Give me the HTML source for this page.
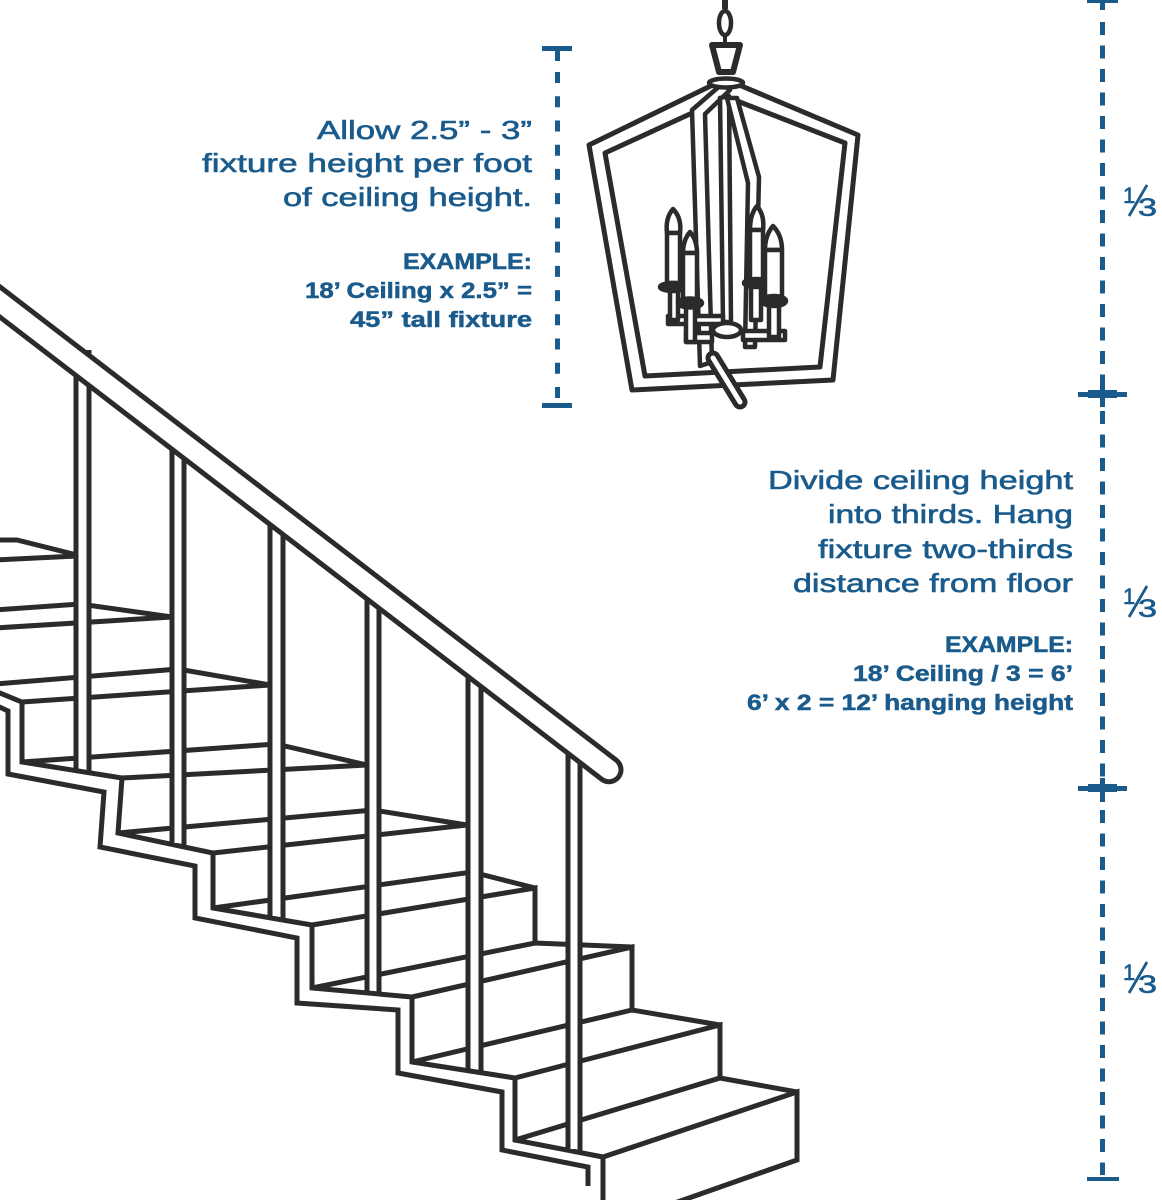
<!DOCTYPE html>
<html>
<head>
<meta charset="utf-8">
<style>
  html, body { margin: 0; padding: 0; background: #fff; }
  svg { display: block; }
  .reg { font-family: "Liberation Sans", "DejaVu Sans", sans-serif; font-size: 26px; fill: #1a5b8c; stroke: #1a5b8c; stroke-width: 0.6px; }
  .bold { font-family: "Liberation Sans", "DejaVu Sans", sans-serif; font-size: 22px; font-weight: bold; fill: #1a5b8c; stroke: #1a5b8c; stroke-width: 0.5px; }
  .fn { font-family: "Liberation Sans", "DejaVu Sans", sans-serif; fill: #1a5b8c; stroke: #1a5b8c; stroke-width: 0.6px; }
</style>
</head>
<body>
<svg width="1162" height="1200" viewBox="0 0 1162 1200" xmlns="http://www.w3.org/2000/svg">
  <rect width="1162" height="1200" fill="#fff"/>

  <!-- ================= STAIRS ================= -->
  <g stroke="#2b2b2b" stroke-width="5" fill="none" stroke-linejoin="miter">
    <polyline points="-5,691 22,702 22,762 122,778 118,833 213,853 213,908 312,925 312,988 412,997 412,1062 515,1078 515,1140 603,1157 603,1205"/>
    <polyline points="-5,705 8,711 8,774 104,792 100,847 195,866 195,918 297,938 297,1003 398,1010 398,1073 502,1092 502,1150 588,1167 588,1186"/>
    <polyline points="603,1157 797,1092 797,1160 669,1205"/>
    <polyline points="515,1140 720,1078 797,1092"/>
    <polyline points="515,1078 720,1025 720,1078"/>
    <polyline points="412,1062 632,1010 720,1025"/>
    <polyline points="412,997 632,947 632,1010"/>
    <polyline points="312,988 535,943 632,947"/>
    <polyline points="312,925 535,888 535,943"/>
    <polyline points="213,908 472,872 535,888"/>
    <polyline points="213,853 467,825"/>
    <polyline points="118,833 373,810 467,825"/>
    <polyline points="122,778 367,765"/>
    <polyline points="22,762 276,744 367,765"/>
    <polyline points="22,702 270,685"/>
    <polyline points="-5,684 178,669 270,685"/>
    <polyline points="-5,628 172,617"/>
    <polyline points="-5,610 80,604 172,617"/>
    <polyline points="-5,560 77,556"/>
    <polyline points="-5,540 17,540 77,555"/>
  </g>

  <!-- balusters -->
  <g stroke="#2b2b2b" stroke-width="5">
    <rect x="76" y="350" width="13" height="418" fill="#fff" stroke="none"/>
    <line x1="76" y1="350" x2="76" y2="771"/><line x1="89" y1="350" x2="89" y2="771"/>
    <rect x="172" y="430" width="12" height="413" fill="#fff" stroke="none"/>
    <line x1="172" y1="430" x2="172" y2="846"/><line x1="184" y1="430" x2="184" y2="846"/>
    <rect x="270" y="505" width="13" height="411" fill="#fff" stroke="none"/>
    <line x1="270" y1="505" x2="270" y2="919"/><line x1="283" y1="505" x2="283" y2="919"/>
    <rect x="367" y="580" width="12" height="410" fill="#fff" stroke="none"/>
    <line x1="367" y1="580" x2="367" y2="993"/><line x1="379" y1="580" x2="379" y2="993"/>
    <rect x="468" y="658" width="13" height="410" fill="#fff" stroke="none"/>
    <line x1="468" y1="658" x2="468" y2="1071"/><line x1="481" y1="658" x2="481" y2="1071"/>
    <rect x="568" y="735" width="12" height="414" fill="#fff" stroke="none"/>
    <line x1="568" y1="735" x2="568" y2="1152"/><line x1="580" y1="735" x2="580" y2="1152"/>
  </g>

  <!-- handrail -->
  <line x1="-40" y1="271.3" x2="609" y2="769.7" stroke="#2b2b2b" stroke-width="29" stroke-linecap="round"/>
  <line x1="-40" y1="271.3" x2="609" y2="769.7" stroke="#fff" stroke-width="19" stroke-linecap="round"/>

  <!-- ================= CHANDELIER ================= -->
  <g stroke="#2b2b2b" stroke-width="5" fill="none" stroke-linejoin="round">
    <polygon points="589,145 725,79 858,135 833,380 632,390"/>
    <polygon points="605,153 727,97 845,143 820,367 645,376"/>
  </g>
  <g stroke="#2b2b2b" stroke-width="4.5" fill="#fff" stroke-linejoin="round">
    <polygon points="692,110 722,84 730,90 705,114 712,362 700,366"/>
    <polygon points="720,98 729,96 731,322 723,322"/>
    <polygon points="727,98 737,98 759,177 755,347 745,347 748,183"/>
  </g>
  <line x1="713" y1="358" x2="740" y2="402" stroke="#2b2b2b" stroke-width="15" stroke-linecap="round"/>
  <line x1="713" y1="358" x2="740" y2="402" stroke="#fff" stroke-width="5" stroke-linecap="round"/>

  <g stroke="#2b2b2b" stroke-width="4.5" fill="#fff" stroke-linejoin="round">
    <rect x="668" y="316" width="55" height="8"/>
    <rect x="686" y="333" width="26" height="9"/>
    <rect x="743" y="331" width="42" height="9"/>
    <rect x="670" y="290" width="8" height="30"/>
    <rect x="686" y="306" width="9" height="36"/>
    <rect x="751" y="286" width="10" height="34"/>
    <rect x="769" y="304" width="10" height="33"/>
    <path d="M673,209 C680,216 681,225 680,233 L667,233 C666,225 667,216 673,209 Z"/>
    <rect x="667" y="233" width="13" height="50"/>
    <ellipse cx="673" cy="287" rx="13" ry="4" fill="#2b2b2b"/>
    <path d="M690,232 C696,239 697,247 697,253 L683,253 C683,247 684,239 690,232 Z"/>
    <rect x="683" y="253" width="14" height="46"/>
    <ellipse cx="690" cy="303" rx="12" ry="4.5" fill="#2b2b2b"/>
    <path d="M757,206 C763,213 764,222 763,230 L750,230 C750,222 751,213 757,206 Z"/>
    <rect x="750" y="230" width="13" height="50"/>
    <ellipse cx="756" cy="283" rx="12" ry="4" fill="#2b2b2b"/>
    <path d="M773,226 C780,233 782,242 782,250 L765,250 C765,242 767,233 773,226 Z"/>
    <rect x="765" y="250" width="17" height="47"/>
    <ellipse cx="774" cy="301" rx="12" ry="5" fill="#2b2b2b"/>
    <ellipse cx="727" cy="330" rx="14" ry="7"/>
    <ellipse cx="726" cy="83" rx="17" ry="4.5"/>
    <polygon points="712,45 740,45 733,72 719,72" stroke-width="6"/>
    <ellipse cx="725" cy="23" rx="6" ry="12"/>
  </g>
  <line x1="725" y1="0" x2="725" y2="9" stroke="#2b2b2b" stroke-width="6"/>
  <line x1="725" y1="35" x2="725" y2="45" stroke="#2b2b2b" stroke-width="4"/>

  <!-- ================= DIMENSION LINES ================= -->
  <g fill="#1a5b8c">
    <rect x="542" y="46" width="30" height="5"/>
    <rect x="555" y="49" width="5" height="12"/>
    <rect x="542" y="403" width="30" height="5"/>
    <rect x="1087" y="0" width="31" height="3"/>
    <rect x="1100" y="0" width="5" height="10"/>
    <rect x="1078" y="392" width="49" height="5"/>
    <rect x="1088" y="390" width="29" height="8"/>
    <rect x="1100" y="383" width="5" height="24"/>
    <rect x="1078" y="786" width="49" height="5"/>
    <rect x="1088" y="784" width="29" height="8"/>
    <rect x="1100" y="778" width="5" height="24"/>
    <rect x="1087" y="1177" width="32" height="4"/>
  </g>
  <g stroke="#1a5b8c" stroke-width="5" fill="none">
    <line x1="557.5" y1="72" x2="557.5" y2="398" stroke-dasharray="11 13.23"/>
    <line x1="1102.5" y1="22" x2="1102.5" y2="383" stroke-dasharray="13 10.5"/>
    <line x1="1102.5" y1="411" x2="1102.5" y2="778" stroke-dasharray="13 10.5"/>
    <line x1="1102.5" y1="810" x2="1102.5" y2="1175" stroke-dasharray="13 10.5"/>
  </g>

  <!-- ================= TEXT ================= -->
  <text class="reg" x="317" y="139" textLength="215" lengthAdjust="spacingAndGlyphs">Allow 2.5” - 3”</text>
  <text class="reg" x="202" y="172" textLength="330" lengthAdjust="spacingAndGlyphs">fixture height per foot</text>
  <text class="reg" x="283" y="206" textLength="249" lengthAdjust="spacingAndGlyphs">of ceiling height.</text>
  <text class="bold" x="403" y="269" textLength="129" lengthAdjust="spacingAndGlyphs">EXAMPLE:</text>
  <text class="bold" x="305" y="298" textLength="227" lengthAdjust="spacingAndGlyphs">18’ Ceiling x 2.5” =</text>
  <text class="bold" x="350" y="327" textLength="182" lengthAdjust="spacingAndGlyphs">45” tall fixture</text>

  <text class="reg" x="768" y="489" textLength="305" lengthAdjust="spacingAndGlyphs">Divide ceiling height</text>
  <text class="reg" x="828" y="523" textLength="245" lengthAdjust="spacingAndGlyphs">into thirds. Hang</text>
  <text class="reg" x="818" y="558" textLength="255" lengthAdjust="spacingAndGlyphs">fixture two-thirds</text>
  <text class="reg" x="793" y="592" textLength="280" lengthAdjust="spacingAndGlyphs">distance from floor</text>
  <text class="bold" x="945" y="652" textLength="128" lengthAdjust="spacingAndGlyphs">EXAMPLE:</text>
  <text class="bold" x="853" y="681" textLength="220" lengthAdjust="spacingAndGlyphs">18’ Ceiling / 3 = 6’</text>
  <text class="bold" x="747" y="710" textLength="326" lengthAdjust="spacingAndGlyphs">6’ x 2 = 12’ hanging height</text>

  <!-- one-third labels -->
  <g>
    <text class="fn" x="1123" y="203" font-size="22">1</text>
    <line x1="1129" y1="216" x2="1147" y2="185" stroke="#1a5b8c" stroke-width="2.8"/>
    <text class="fn" x="1138" y="216" font-size="25" textLength="19" lengthAdjust="spacingAndGlyphs">3</text>
  </g>
  <g>
    <text class="fn" x="1123" y="604" font-size="22">1</text>
    <line x1="1129" y1="617" x2="1147" y2="586" stroke="#1a5b8c" stroke-width="2.8"/>
    <text class="fn" x="1138" y="617" font-size="25" textLength="19" lengthAdjust="spacingAndGlyphs">3</text>
  </g>
  <g>
    <text class="fn" x="1123" y="980" font-size="22">1</text>
    <line x1="1129" y1="993" x2="1147" y2="962" stroke="#1a5b8c" stroke-width="2.8"/>
    <text class="fn" x="1138" y="993" font-size="25" textLength="19" lengthAdjust="spacingAndGlyphs">3</text>
  </g>
</svg>
</body>
</html>
